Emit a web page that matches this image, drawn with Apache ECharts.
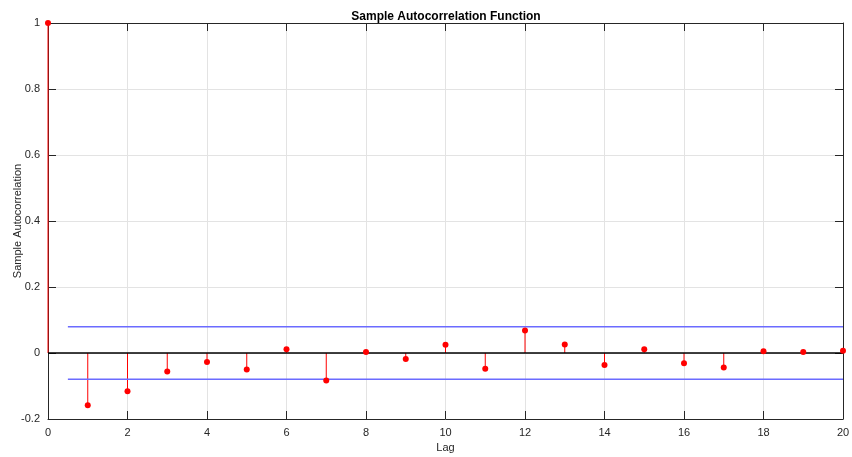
<!DOCTYPE html>
<html><head><meta charset="utf-8">
<script src="https://cdn.jsdelivr.net/npm/echarts@6/dist/echarts.min.js"></script>
<style>html,body{margin:0;padding:0;background:#fff}#c{width:852px;height:457px}</style>
</head><body><div id="c"></div>
<script>
const lags = [0,1,2,3,4,5,6,7,8,9,10,11,12,13,14,15,16,17,18,19,20];
const acf = [1,-0.158,-0.116,-0.056,-0.027,-0.050,0.011,-0.083,0.003,-0.018,0.025,-0.048,0.068,0.026,-0.036,0.011,-0.031,-0.044,0.005,0.003,0.007];
const boundUpper = 0.0795;
const boundLower = -0.0795;
const boundRange = [0.5, 20];
const xTicks = [0,2,4,6,8,10,12,14,16,18,20];
const yTicks = [-0.2,0,0.2,0.4,0.6,0.8,1];

const pts = lags.map((l,i)=>[l, acf[i]]);
const font = '"Liberation Sans", Arial, sans-serif';
const axisCol = '#262626';
const chart = echarts.init(document.getElementById('c'), null, {renderer:'canvas'});
const xCommon = {type:'value', min:xTicks[0], max:xTicks[xTicks.length-1], interval:2};
const yCommon = {type:'value', min:yTicks[0], max:yTicks[yTicks.length-1], interval:0.2};
const line = {onZero:false, lineStyle:{color:axisCol, width:1}};
const tick = {inside:true, length:8, lineStyle:{color:axisCol}};
chart.setOption({
  animation:false,
  title:{text:'Sample Autocorrelation Function', left:441, top:6, textAlign:'center',
    textStyle:{fontFamily:font, fontSize:12, fontWeight:'bold', color:'#000'}},
  grid:{left:48, right:9, top:23, bottom:38, outerBoundsMode:'none', containLabel:false},
  xAxis:[
    Object.assign({}, xCommon, {position:'bottom', name:'Lag', nameLocation:'middle', nameGap:22,
      nameTextStyle:{fontFamily:font, fontSize:11, color:axisCol},
      axisLine:line, axisTick:tick,
      axisLabel:{fontFamily:font, fontSize:11, color:axisCol, margin:8, formatter:v=>String(v)},
      splitLine:{show:true, lineStyle:{color:'#e3e3e3', width:1}}}),
    Object.assign({}, xCommon, {position:'top',
      axisLine:line, axisTick:tick,
      axisLabel:{show:false}, splitLine:{show:false}})
  ],
  yAxis:[
    Object.assign({}, yCommon, {position:'left', name:'Sample Autocorrelation', nameLocation:'middle', nameGap:25,
      nameMoveOverlap:false,
      nameTextStyle:{fontFamily:font, fontSize:11, color:axisCol},
      axisLine:line, axisTick:tick,
      axisLabel:{fontFamily:font, fontSize:11, color:axisCol, margin:8, formatter:v=>String(Math.round(v*10)/10)},
      splitLine:{show:true, lineStyle:{color:'#e3e3e3', width:1}}}),
    Object.assign({}, yCommon, {position:'right',
      axisLine:line, axisTick:tick,
      axisLabel:{show:false}, splitLine:{show:false}})
  ],
  series:[
    {type:'custom', name:'stems', data:pts, z:2, silent:true,
      renderItem:(params, api)=>{
        const p0 = api.coord([api.value(0), 0]);
        const p1 = api.coord([api.value(0), api.value(1)]);
        return {type:'line', shape:{x1:p0[0], y1:p0[1], x2:p1[0], y2:p1[1]}, style:{stroke:'#ff0000', lineWidth:1}};
      }},
    {type:'line', data:[[0,0],[20,0]], symbol:'none', z:3, lineStyle:{color:'#000', width:1.5}, silent:true},
    {type:'line', data:[[boundRange[0],boundUpper],[boundRange[1],boundUpper]], symbol:'none', z:3, lineStyle:{color:'#6b6bff', width:1.5}, silent:true},
    {type:'line', data:[[boundRange[0],boundLower],[boundRange[1],boundLower]], symbol:'none', z:3, lineStyle:{color:'#6b6bff', width:1.5}, silent:true},
    {type:'scatter', data:pts, symbol:'circle', symbolSize:6, z:5, itemStyle:{color:'#ff0000', opacity:1}, silent:true}
  ]
});
</script></body></html>
